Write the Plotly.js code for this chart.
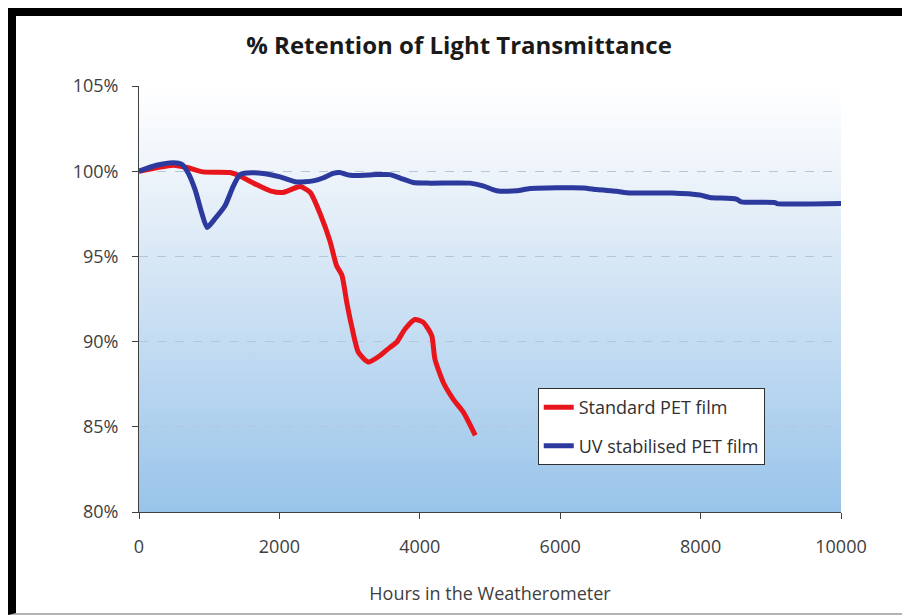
<!DOCTYPE html>
<html>
<head>
<meta charset="utf-8">
<script src="https://cdn.plot.ly/plotly-3.0.1.min.js"></script>
<style>
  html, body { margin: 0; padding: 0; background: #ffffff; width: 902px; height: 615px; overflow: hidden; }
  #frame { position: absolute; left: 8px; top: 8px; width: 886px; height: 597px;
           border-top: 8px solid #000; border-left: 8px solid #000; border-bottom: 2px solid #b4b4b4; }
  #chart { width: 886px; height: 597px; }
</style>
</head>
<body>
<div id="frame"><div id="chart"></div></div>
<script>
// Standard PET film
const stdHours = [0, 250, 490, 700, 910, 1300, 1440, 1680, 1870, 2050, 2250, 2300, 2440, 2580, 2720, 2815, 2890, 2960, 3030, 3125, 3265, 3430, 3575, 3670, 3790, 3930, 4050, 4170, 4215, 4335, 4480, 4620, 4790];
const stdRetention = [100.0, 100.2, 100.35, 100.2, 99.96, 99.92, 99.7, 99.2, 98.85, 98.75, 99.06, 99.1, 98.75, 97.5, 95.9, 94.45, 93.9, 92.3, 90.9, 89.37, 88.8, 89.17, 89.66, 89.96, 90.74, 91.3, 91.13, 90.35, 88.98, 87.6, 86.6, 85.86, 84.5];

// UV stabilised PET film
const uvHours = [0, 250, 490, 610, 700, 800, 890, 970, 1080, 1225, 1345, 1440, 1535, 1770, 2010, 2245, 2480, 2620, 2765, 2860, 3005, 3385, 3575, 3720, 3905, 4145, 4715, 4900, 5095, 5380, 5570, 6330, 6520, 6800, 7000, 7590, 7990, 8130, 8510, 8580, 9060, 9085, 10000];
const uvRetention = [100.0, 100.35, 100.5, 100.4, 99.9, 98.9, 97.6, 96.7, 97.2, 97.97, 99.14, 99.8, 99.9, 99.87, 99.67, 99.37, 99.43, 99.6, 99.87, 99.92, 99.76, 99.8, 99.8, 99.6, 99.34, 99.3, 99.3, 99.14, 98.85, 98.85, 98.98, 99.02, 98.92, 98.82, 98.72, 98.72, 98.6, 98.46, 98.36, 98.2, 98.16, 98.1, 98.1];

const seriesNames = ["Standard PET film", "UV stabilised PET film"];
const xTicks = [0, 2000, 4000, 6000, 8000, 10000];
const yTicks = [80, 85, 90, 95, 100, 105];

const FONT = "'Open Sans', Lato, sans-serif";

const gradSvg = '<svg xmlns="http://www.w3.org/2000/svg" width="100" height="100" preserveAspectRatio="none">' +
  '<defs><linearGradient id="g" x1="0" y1="0" x2="0" y2="1">' +
  '<stop offset="0" stop-color="#ffffff"/>' +
  '<stop offset="0.2" stop-color="#eef4fa"/>' +
  '<stop offset="1" stop-color="#99c4ea"/>' +
  '</linearGradient></defs><rect width="100" height="100" fill="url(#g)"/></svg>';

const traces = [
  { x: stdHours, y: stdRetention, name: seriesNames[0], type: "scatter", mode: "lines", legendgroup: "a",
    line: { color: "#e8161c", width: 5, shape: "spline", smoothing: 0.6 } },
  { x: uvHours, y: uvRetention, name: seriesNames[1], type: "scatter", mode: "lines", legendgroup: "b",
    line: { color: "#2c3a9e", width: 5, shape: "spline", smoothing: 0.6 } }
];

const layout = {
  width: 886, height: 597,
  margin: { l: 123, r: 61, t: 70, b: 101 },
  paper_bgcolor: "#ffffff",
  plot_bgcolor: "rgba(0,0,0,0)",
  font: { family: FONT, color: "#404040", size: 17 },
  title: { text: "% Retention of Light Transmittance", x: 0.5, xanchor: "center", y: 0.95, yanchor: "middle",
           font: { family: FONT, size: 24, color: "#1a1a1a", weight: "bold" } },
  xaxis: {
    range: [0, 10000], tickvals: xTicks, ticktext: xTicks.map(String),
    showgrid: false, zeroline: false,
    showline: true, linecolor: "#404040", linewidth: 1,
    ticks: "outside", ticklen: 6, tickcolor: "#404040",
    ticklabelstandoff: 12,
    tickfont: { family: FONT, size: 18, color: "#404040" },
    title: { text: "Hours in the Weatherometer", standoff: 30, font: { family: FONT, size: 18, color: "#404040" } }
  },
  yaxis: {
    range: [80, 105], tickvals: yTicks, ticktext: yTicks.map(v => v + "%"),
    showgrid: true, gridcolor: "#b4c6d8", griddash: "dash", gridwidth: 1,
    zeroline: false,
    showline: true, linecolor: "#404040", linewidth: 1,
    ticks: "outside", ticklen: 6, tickcolor: "#404040",
    ticklabelstandoff: 10,
    tickfont: { family: FONT, size: 18, color: "#404040" }
  },
  legend: {
    x: 0.568, y: 0.291, xanchor: "left", yanchor: "top",
    bgcolor: "#ffffff", bordercolor: "#303030", borderwidth: 1,
    font: { family: FONT, size: 18, color: "#303030" },
    tracegroupgap: 12
  },
  images: [{
    source: "data:image/svg+xml;charset=utf-8," + encodeURIComponent(gradSvg),
    xref: "x domain", yref: "y domain", x: 0, y: 1, sizex: 1, sizey: 1,
    xanchor: "left", yanchor: "top", sizing: "stretch", layer: "below"
  }],
  showlegend: true
};

Plotly.newPlot("chart", traces, layout, { displayModeBar: false, staticPlot: true });
</script>
</body>
</html>
